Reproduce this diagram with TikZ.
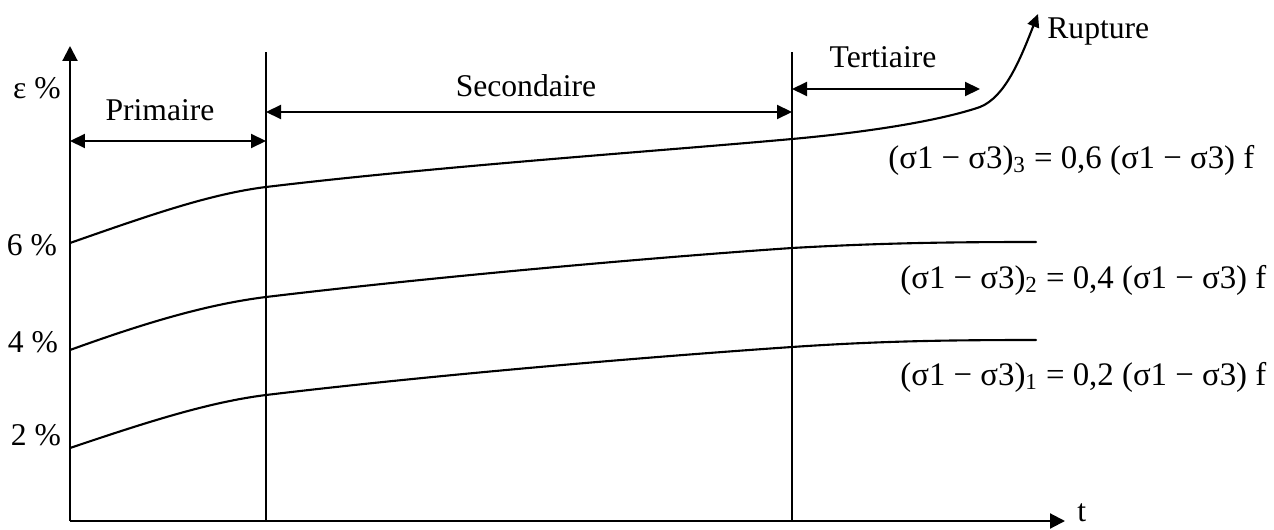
\documentclass[tikz,border=0pt]{standalone}
\usepackage{fontspec}
\setmainfont{Liberation Serif}
\usepackage{tikz}
\usetikzlibrary{arrows.meta}
\tikzset{
  base/.style={draw=black, line width=1.2pt},
  curve/.style={draw=black, line width=1.2pt, line cap=round, line join=round},
  axis/.style={base, -{Triangle[length=3mm,width=3mm]}},
  span/.style={base, {Triangle[length=3mm,width=2.8mm]}-{Triangle[length=3mm,width=2.8mm]}},
  rupt/.style={curve, -{Triangle[length=2.6mm,width=2.4mm]}},
  lab/.style={inner sep=0pt, font=\fontsize{18}{21}\selectfont},
  labs/.style={inner sep=0pt, anchor=west, font=\fontsize{18.7}{22}\selectfont},
}

\begin{document}
\begin{tikzpicture}[x=0.02cm,y=-0.02cm]
  \useasboundingbox (0,0) rectangle (1274,530);

  % axes and phase limits
  \coordinate (O) at (70,521);
  \coordinate (Y) at (70,46);
  \coordinate (X) at (1065,521);
  \coordinate (V1t) at (266,52);
  \coordinate (V1b) at (266,521);
  \coordinate (V2t) at (792,52);
  \coordinate (V2b) at (792,521);

  \draw[axis] (O)--(Y);
  \draw[axis] (O)--(X);
  \draw[base] (V1b)--(V1t);
  \draw[base] (V2b)--(V2t);

  % phase spans
  \coordinate (P1) at (70,141);
  \coordinate (P2) at (266,141);
  \coordinate (S1) at (266,112);
  \coordinate (S2) at (792,112);
  \coordinate (T1) at (792,89);
  \coordinate (T2) at (980,89);
  \draw[span] (P1)--(P2);
  \draw[span] (S1)--(S2);
  \draw[span] (T1)--(T2);

  \node[lab] (prim) at (160,110) {Primaire};
  \node[lab] (sec) at (526,86) {Secondaire};
  \node[lab] (ter) at (883,57) {Tertiaire};
  \node[lab,anchor=west] (rup) at (1047,32) {Rupture};

  % axis labels
  \node[lab] (eps) at (37,88) {ε \%};
  \node[lab] (p6) at (32,245) {6 \%};
  \node[lab] (p4) at (33,342) {4 \%};
  \node[lab] (p2) at (36,435) {2 \%};
  \node[lab,anchor=west] (t) at (1077,513) {t};

  % creep curves
  \coordinate (A1) at (70,448);
  \coordinate (B1) at (266,395);
  \coordinate (C1) at (792,347);
  \coordinate (D1) at (1036,340);
  \draw[curve] (A1) .. controls (150,421) and (210,402) .. (B1)
    .. controls (441,374) and (660,356) .. (C1)
    .. controls (880,341) and (950,340) .. (D1);

  \coordinate (A2) at (70,350);
  \coordinate (B2) at (266,297);
  \coordinate (C2) at (792,248);
  \coordinate (D2) at (1036,242);
  \draw[curve] (A2) .. controls (150,321) and (210,304) .. (B2)
    .. controls (441,276) and (660,257) .. (C2)
    .. controls (880,243) and (950,242) .. (D2);

  \coordinate (A3) at (70,243);
  \coordinate (B3) at (266,187);
  \coordinate (C3) at (792,139);
  \coordinate (E3) at (980,107);
  \coordinate (R) at (1038,14);
  \draw[rupt] (A3) .. controls (150,215) and (210,194) .. (B3)
    .. controls (441,166) and (660,151) .. (C3)
    .. controls (880,131) and (945,119) .. (E3)
    .. controls (1005,97) and (1020,60) .. (R);

  \node[labs] (L3) at (888,160) {(σ1 − σ3)\textsubscript{3} = 0,6 (σ1 − σ3) f};
  \node[labs] (L2) at (900,280) {(σ1 − σ3)\textsubscript{2} = 0,4 (σ1 − σ3) f};
  \node[labs] (L1) at (900,377) {(σ1 − σ3)\textsubscript{1} = 0,2 (σ1 − σ3) f};
\end{tikzpicture}
\end{document}
